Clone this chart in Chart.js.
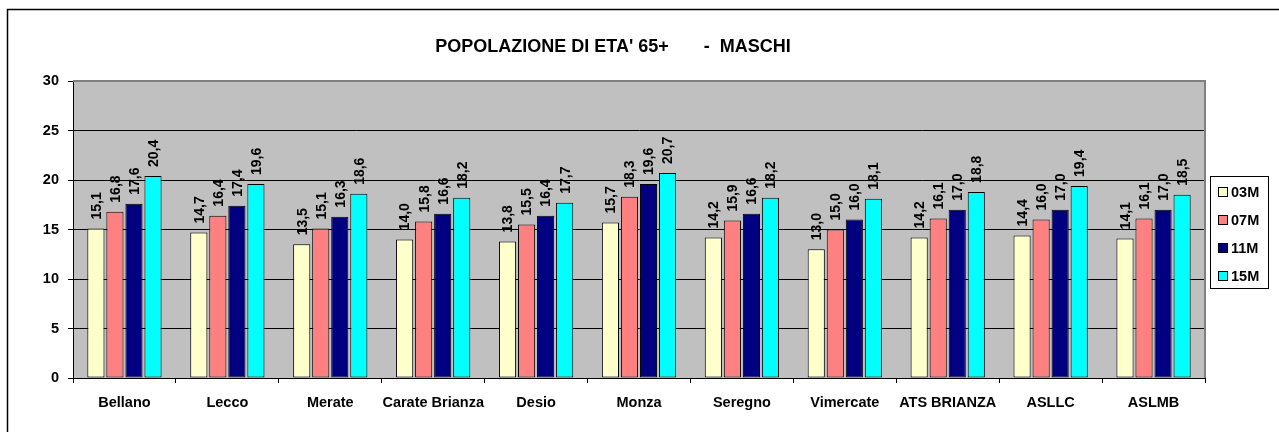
<!DOCTYPE html>
<html>
<head>
<meta charset="utf-8">
<script src="https://cdn.jsdelivr.net/npm/chart.js@4.4.1/dist/chart.umd.min.js"></script>
<style>
  html, body { margin: 0; padding: 0; background: #fff; }
  #wrap { position: relative; width: 1279px; height: 432px; }
</style>
</head>
<body>
<div id="wrap"><canvas id="grafico"></canvas></div>
<script>
// dati
const categorie = ['Bellano', 'Lecco', 'Merate', 'Carate Brianza', 'Desio', 'Monza', 'Seregno', 'Vimercate', 'ATS BRIANZA', 'ASLLC', 'ASLMB'];
const serie03M = [15.1, 14.7, 13.5, 14.0, 13.8, 15.7, 14.2, 13.0, 14.2, 14.4, 14.1];
const serie07M = [16.8, 16.4, 15.1, 15.8, 15.5, 18.3, 15.9, 15.0, 16.1, 16.0, 16.1];
const serie11M = [17.6, 17.4, 16.3, 16.6, 16.4, 19.6, 16.6, 16.0, 17.0, 17.0, 17.0];
const serie15M = [20.4, 19.6, 18.6, 18.2, 17.7, 20.7, 18.2, 18.1, 18.8, 19.4, 18.5];
const nomiSerie = ['03M', '07M', '11M', '15M'];
const colori = ['#FFFFCC', '#FF8080', '#000080', '#00FFFF'];
const yTicks = [0, 5, 10, 15, 20, 25, 30];
const titolo = "POPOLAZIONE DI ETA' 65+       -  MASCHI";

const FONT = 'Arial, "Liberation Sans", sans-serif';

// sfondo grigio dell'area del grafico, cornice esterna e titolo
const sfondo = {
  id: 'sfondo',
  beforeDraw(chart) {
    const { ctx, chartArea: a } = chart;
    ctx.save();
    ctx.fillStyle = '#C0C0C0';
    ctx.fillRect(a.left, a.top, a.right - a.left, a.bottom - a.top);
    ctx.strokeStyle = '#000';
    ctx.lineWidth = 1.5;
    ctx.beginPath();
    ctx.moveTo(7.5, 432);
    ctx.lineTo(7.5, 9.5);
    ctx.lineTo(1279, 9.5);
    ctx.stroke();
    ctx.fillStyle = '#000';
    ctx.font = 'bold 18px ' + FONT;
    ctx.textAlign = 'center';
    ctx.textBaseline = 'middle';
    ctx.fillText(titolo, 613, 47);
    ctx.restore();
  },
  afterDraw(chart) {
    const { ctx, chartArea: a } = chart;
    ctx.save();
    ctx.strokeStyle = '#808080';
    ctx.lineWidth = 2;
    ctx.beginPath();
    ctx.moveTo(a.left, a.top);
    ctx.lineTo(a.right, a.top);
    ctx.lineTo(a.right, a.bottom);
    ctx.stroke();
    ctx.restore();
  }
};

// etichette verticali sopra le barre
const etichette = {
  id: 'etichette',
  afterDatasetsDraw(chart) {
    const { ctx } = chart;
    ctx.save();
    ctx.fillStyle = '#000';
    ctx.font = 'bold 14px ' + FONT;
    ctx.textAlign = 'left';
    ctx.textBaseline = 'middle';
    chart.data.datasets.forEach((ds, i) => {
      chart.getDatasetMeta(i).data.forEach((bar, j) => {
        const testo = ds.data[j].toFixed(1).replace('.', ',');
        ctx.save();
        ctx.translate(bar.x + 1, bar.y - 9);
        ctx.rotate(-Math.PI / 2);
        ctx.fillText(testo, 0, 0);
        ctx.restore();
      });
    });
    ctx.restore();
  }
};

// legenda con riquadro a destra
const legenda = {
  id: 'legenda',
  afterDraw(chart) {
    const { ctx } = chart;
    ctx.save();
    ctx.strokeStyle = '#000';
    ctx.lineWidth = 1;
    ctx.fillStyle = '#fff';
    ctx.fillRect(1210.5, 176.5, 58, 112);
    ctx.strokeRect(1210.5, 176.5, 58, 112);
    ctx.font = 'bold 14.5px ' + FONT;
    ctx.textBaseline = 'middle';
    chart.data.datasets.forEach((ds, i) => {
      const y = 192 + i * 28;
      ctx.fillStyle = ds.backgroundColor;
      ctx.fillRect(1218.5, y - 4.5, 9, 9);
      ctx.strokeStyle = '#000';
      ctx.strokeRect(1218.5, y - 4.5, 9, 9);
      ctx.fillStyle = '#000';
      ctx.fillText(ds.label, 1231, y + 1);
    });
    ctx.restore();
  }
};

const datasets = [serie03M, serie07M, serie11M, serie15M].map((dati, i) => ({
  label: nomiSerie[i],
  data: dati,
  backgroundColor: colori[i],
  borderColor: '#000',
  borderWidth: 1,
  borderSkipped: false,
  categoryPercentage: 0.74,
  barPercentage: 0.9
}));

new Chart(document.getElementById('grafico'), {
  type: 'bar',
  data: { labels: categorie, datasets },
  options: {
    responsive: true,
    maintainAspectRatio: false,
    animation: false,
    layout: { padding: { left: 7, top: 81, right: 74, bottom: 0 } },
    plugins: {
      legend: { display: false },
      title: { display: false },
      tooltip: { enabled: false }
    },
    scales: {
      x: {
        afterFit: s => { s.height = 54; },
        grid: { display: true, drawOnChartArea: false, offset: true, color: '#000', tickLength: 5, tickColor: '#000' },
        border: { display: true, color: '#000', width: 1 },
        ticks: { color: '#000', font: { family: FONT, size: 14.5, weight: 'bold' }, padding: 11, maxRotation: 0, autoSkip: false }
      },
      y: {
        min: 0, max: 30,
        afterFit: s => { s.width = 66; },
        afterBuildTicks: s => { s.ticks = yTicks.map(v => ({ value: v })); },
        grid: { color: '#000', lineWidth: 1, tickLength: 5, tickColor: '#000' },
        border: { display: true, color: '#000', width: 1 },
        ticks: { color: '#000', font: { family: FONT, size: 14.5, weight: 'bold' }, padding: 9 }
      }
    }
  },
  plugins: [sfondo, etichette, legenda]
});
</script>
</body>
</html>
